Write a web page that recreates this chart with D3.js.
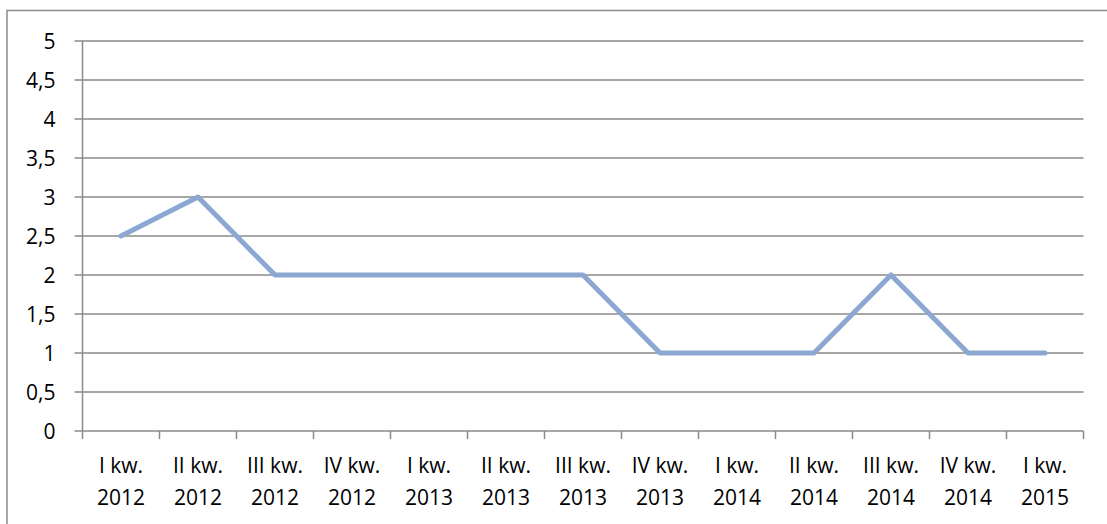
<!DOCTYPE html>
<html>
<head>
<meta charset="utf-8">
<script src="https://cdnjs.cloudflare.com/ajax/libs/d3/7.8.5/d3.min.js"></script>
<style>
  body { margin: 0; background: #fff; }
  text { font-family: "Open Sans", "Noto Sans", sans-serif; fill: #000; }
</style>
</head>
<body>
<div id="chart"></div>
<script>
// quarters (two-line labels) and values
var quarters = ["I kw.", "II kw.", "III kw.", "IV kw.", "I kw.", "II kw.", "III kw.", "IV kw.", "I kw.", "II kw.", "III kw.", "IV kw.", "I kw."];
var years = ["2012", "2012", "2012", "2012", "2013", "2013", "2013", "2013", "2014", "2014", "2014", "2014", "2015"];
var values = [2.5, 3, 2, 2, 2, 2, 2, 1, 1, 1, 2, 1, 1];
var yTicks = [0, 0.5, 1, 1.5, 2, 2.5, 3, 3.5, 4, 4.5, 5];

var W = 1107, H = 524;
var margin = { top: 41, left: 82.5, bottom: 93, right: 23.5 };
var width = W - margin.left - margin.right;
var height = H - margin.top - margin.bottom;

var svg = d3.select("#chart").append("svg")
    .attr("width", W)
    .attr("height", H);

// outer frame (right/bottom edges fall outside the picture)
svg.append("rect")
    .attr("x", 7).attr("y", 10.5)
    .attr("width", 1120).attr("height", 540)
    .attr("fill", "none")
    .attr("stroke", "#8a8a8a")
    .attr("stroke-width", 1.5);

var g = svg.append("g")
    .attr("transform", "translate(" + margin.left + "," + margin.top + ")");

var idx = d3.range(values.length);
var x = d3.scaleBand().domain(idx).range([0, width]).paddingInner(0).paddingOuter(0);
var y = d3.scaleLinear().domain([0, 5]).range([height, 0]);

var fmt = function(d) { return String(d).replace(".", ","); };

// gridlines
g.selectAll(".grid").data(yTicks).enter().append("line")
    .attr("x1", -8).attr("x2", width)
    .attr("y1", function(d) { return y(d); })
    .attr("y2", function(d) { return y(d); })
    .attr("stroke", "#8a8a8a")
    .attr("stroke-width", 1.5);

// y axis line
g.append("line")
    .attr("x1", 0).attr("x2", 0)
    .attr("y1", 0).attr("y2", height)
    .attr("stroke", "#8a8a8a").attr("stroke-width", 1.5);

// y labels
g.selectAll(".ylab").data(yTicks).enter().append("text")
    .attr("x", -27)
    .attr("y", function(d) { return y(d); })
    .attr("dy", "0.36em")
    .attr("text-anchor", "end")
    .style("font-size", "21px")
    .text(fmt);

// x ticks at category boundaries
var bounds = d3.range(values.length + 1).map(function(i) { return i * x.step(); });
g.selectAll(".xtick").data(bounds).enter().append("line")
    .attr("x1", function(d) { return d; }).attr("x2", function(d) { return d; })
    .attr("y1", height).attr("y2", height + 8)
    .attr("stroke", "#8a8a8a").attr("stroke-width", 1.5);

// x labels
var lab = g.selectAll(".xlab").data(idx).enter().append("text")
    .attr("text-anchor", "middle")
    .style("font-size", "21px");
lab.append("tspan")
    .attr("x", function(d) { return x(d) + x.bandwidth() / 2; })
    .attr("y", height + 42)
    .text(function(d) { return quarters[d]; });
lab.append("tspan")
    .attr("x", function(d) { return x(d) + x.bandwidth() / 2; })
    .attr("y", height + 74)
    .text(function(d) { return years[d]; });

// series line
var line = d3.line()
    .x(function(d, i) { return x(i) + x.bandwidth() / 2; })
    .y(function(d) { return y(d); });

g.append("path")
    .datum(values)
    .attr("d", line)
    .attr("fill", "none")
    .attr("stroke", "#8ca7d2")
    .attr("stroke-width", 5)
    .attr("stroke-linejoin", "round")
    .attr("stroke-linecap", "round");
</script>
</body>
</html>
